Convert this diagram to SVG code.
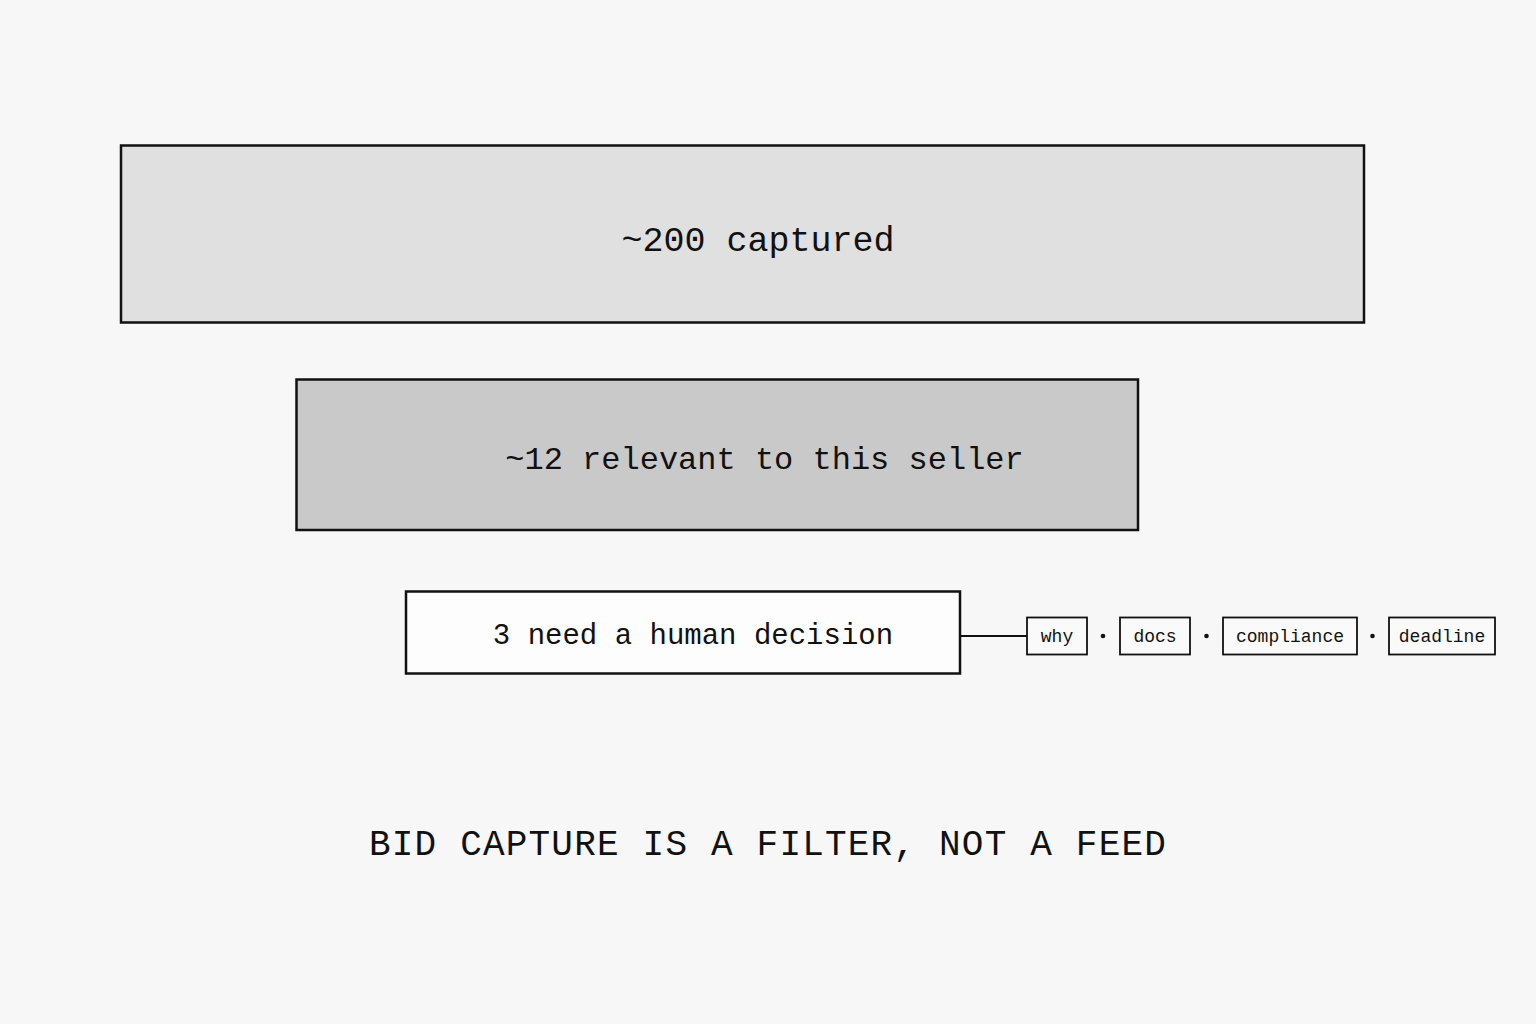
<svg xmlns="http://www.w3.org/2000/svg" width="1536" height="1024" viewBox="0 0 1536 1024">
<style>
.box{stroke:#111;stroke-width:2.5}
.t{font-family:"Liberation Mono","DejaVu Sans Mono",monospace;fill:#111;text-anchor:middle}
.chip{fill:#fafafa;stroke:#111;stroke-width:1.8}
.ct{font-family:"Liberation Mono","DejaVu Sans Mono",monospace;fill:#111;font-size:18px;text-anchor:middle}
</style>
<rect width="1536" height="1024" fill="#f7f7f7"/>
<g id="captured">
<rect class="box" x="121" y="145.5" width="1243" height="177" fill="#e0e0e0"/>
<text class="t" x="758" y="251" font-size="35">~200 captured</text>
</g>
<g id="relevant">
<rect class="box" x="296.5" y="379.5" width="841.5" height="150.5" fill="#c9c9c9"/>
<text class="t" x="764.5" y="469" font-size="32">~12 relevant to this seller</text>
</g>
<g id="decision">
<rect class="box" x="406" y="591.5" width="554" height="82" fill="#fdfdfd"/>
<text class="t" x="693" y="644" font-size="29">3 need a human decision</text>
</g>
<g id="connectors">
<line x1="960" y1="636" x2="1027" y2="636" stroke="#111" stroke-width="1.8"/>
</g>
<g id="chips">
<g id="chip-why"><rect class="chip" x="1027" y="617.5" width="60" height="37"/><text class="ct" x="1057" y="642">why</text></g>
<circle cx="1103" cy="636" r="2.3" fill="#111"/>
<g id="chip-docs"><rect class="chip" x="1120" y="617.5" width="70" height="37"/><text class="ct" x="1155" y="642">docs</text></g>
<circle cx="1206.5" cy="636" r="2.3" fill="#111"/>
<g id="chip-compliance"><rect class="chip" x="1223" y="617.5" width="134" height="37"/><text class="ct" x="1290" y="642">compliance</text></g>
<circle cx="1372.5" cy="636" r="2.3" fill="#111"/>
<g id="chip-deadline"><rect class="chip" x="1389" y="617.5" width="106" height="37"/><text class="ct" x="1442" y="642">deadline</text></g>
</g>
<g id="title">
<text class="t" x="768" y="855" font-size="36" letter-spacing="1.2">BID CAPTURE IS A FILTER, NOT A FEED</text>
</g>
</svg>
